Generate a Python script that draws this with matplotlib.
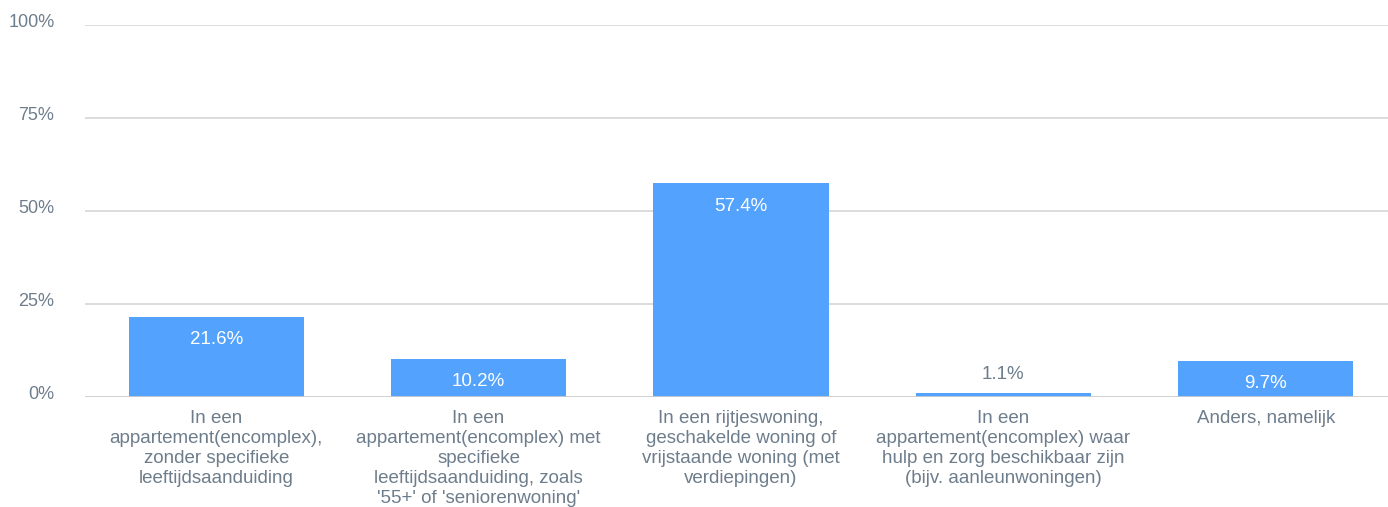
import matplotlib
matplotlib.use("Agg")
import matplotlib.pyplot as plt
from matplotlib.transforms import ScaledTranslation

# ---------------- Data ----------------
categories = [
    "In een\nappartement(encomplex),\nzonder specifieke\nleeftijdsaanduiding",
    "In een\nappartement(encomplex) met\nspecifieke\nleeftijdsaanduiding, zoals\n'55+' of 'seniorenwoning'",
    "In een rijtjeswoning,\ngeschakelde woning of\nvrijstaande woning (met\nverdiepingen)",
    "In een\nappartement(encomplex) waar\nhulp en zorg beschikbaar zijn\n(bijv. aanleunwoningen)",
    "Anders, namelijk",
]
values = [21.6, 10.2, 57.4, 1.1, 9.7]
y_ticks = [0, 25, 50, 75, 100]
y_tick_labels = ["0%", "25%", "50%", "75%", "100%"]

BAR_COLOR = "#52a2fe"
TEXT_COLOR = "#6e7d8c"
GRID_COLOR = "#d9d9d9"

plt.rcParams['font.family'] = ['Liberation Sans', 'DejaVu Sans']

W, H = 1388, 507
fig = plt.figure(figsize=(W / 100, H / 100), dpi=100)
# axes spans x 85 -> 1397 px, y 397 (0%) -> 25 (100%)
ax = fig.add_axes([85 / W, 1 - 397 / H, (1397 - 85) / W, (397 - 25) / H])

x = list(range(len(values)))
ax.bar(x, values, width=0.667, color=BAR_COLOR, zorder=2)

ax.set_xlim(-0.5, len(values) - 0.5)
ax.set_ylim(0, 100)
ax.set_yticks(y_ticks)
ax.set_yticklabels(y_tick_labels, va='center')
ax.tick_params(axis='y', length=0, pad=22, labelsize=13, labelcolor=TEXT_COLOR)
ax.set_xticks([])
# tick labels sit a little above their grid line
for lbl in ax.get_yticklabels():
    lbl.set_transform(lbl.get_transform() + ScaledTranslation(0, 1.5 / 72, fig.dpi_scale_trans))

for s in ax.spines.values():
    s.set_visible(False)
for t in y_ticks[1:]:
    ax.axhline(t, color=GRID_COLOR, lw=1.3, zorder=1)
ax.axhline(0, color="#cccccc", lw=2, zorder=3)

# value labels
for xi, v in zip(x, values):
    if v > 5:
        ax.annotate(f"{v}%", (xi, v), xytext=(0, -16.5), textcoords='offset points',
                    ha='center', va='center', color='white', fontsize=13.5)
    else:
        ax.annotate(f"{v}%", (xi, v), xytext=(0, 13), textcoords='offset points',
                    ha='center', va='center', color=TEXT_COLOR, fontsize=13.5)

# category labels
for xi, c in zip(x, categories):
    ax.annotate(c, (xi, 0), xytext=(0, -9.5), textcoords='offset points',
                ha='center', va='top', color=TEXT_COLOR, fontsize=13.5,
                linespacing=1.22, annotation_clip=False)

fig.savefig("out.png", dpi=100)
